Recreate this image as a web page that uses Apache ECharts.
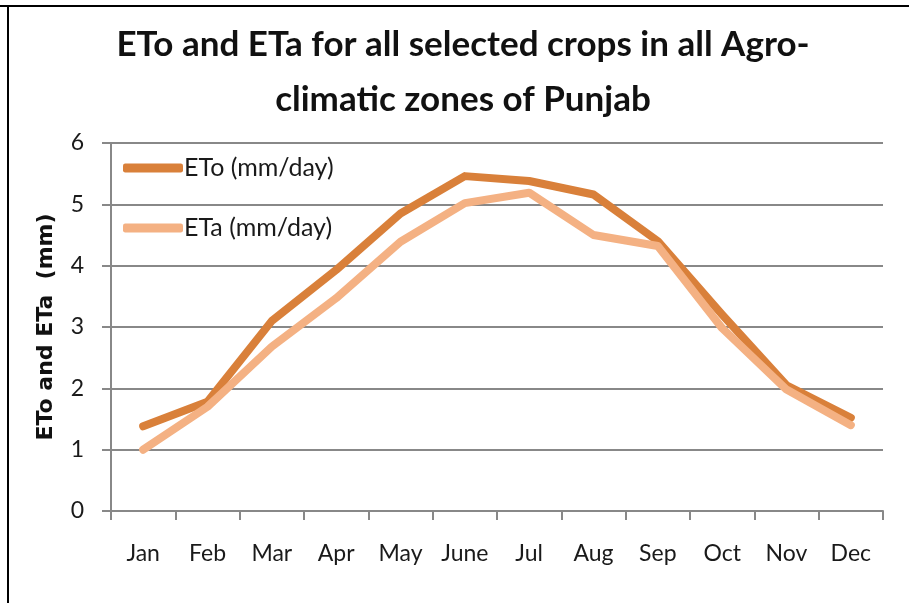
<!DOCTYPE html>
<html>
<head>
  <meta charset="UTF-8">
  <title>ETo and ETa</title>
  <script src="https://cdn.jsdelivr.net/npm/echarts@6/dist/echarts.min.js"></script>
  <style>
    * {
      box-sizing: border-box;
    }

    body {
      margin: 0;
      background: #fff;
    }

    #chart {
      width: 909px;
      height: 603px;
    }
  </style>
</head>
<body>
  <div id="chart"></div>
  <script>
    const months = ['Jan', 'Feb', 'Mar', 'Apr', 'May', 'June', 'Jul', 'Aug', 'Sep', 'Oct', 'Nov', 'Dec']
    const eto = [1.38, 1.78, 3.1, 3.93, 4.85, 5.46, 5.38, 5.16, 4.4, 3.2, 2.05, 1.52]
    const eta = [1.0, 1.7, 2.68, 3.47, 4.39, 5.02, 5.19, 4.5, 4.32, 2.98, 1.98, 1.4]
    const yTicks = [0, 1, 2, 3, 4, 5, 6]

    const myChart = echarts.init(document.querySelector('#chart'))
    const option = {
      animation: false,
      backgroundColor: '#fff',
      title: {
        text: 'ETo and ETa for all selected crops in all Agro-\nclimatic zones of Punjab',
        left: 463,
        top: 17,
        padding: 0,
        textAlign: 'center',
        textStyle: {
          fontFamily: 'Lato',
          fontWeight: 'bold',
          fontSize: 35,
          lineHeight: 55,
          color: '#111'
        }
      },
      graphic: [
        { type: 'rect', shape: { x: 0, y: 5, width: 909, height: 2 }, style: { fill: '#000' } },
        { type: 'rect', shape: { x: 7, y: 5, width: 2, height: 598 }, style: { fill: '#000' } }
      ],
      legend: {
        orient: 'vertical',
        left: 123,
        top: 154,
        padding: 0,
        itemWidth: 60,
        itemHeight: 9,
        itemGap: 32,
        icon: 'roundRect',
        textStyle: {
          fontFamily: 'Lato',
          fontSize: 25,
          lineHeight: 28,
          color: '#1a1a1a',
          padding: [0, 0, 0, -4]
        },
        data: ['ETo (mm/day)', 'ETa (mm/day)']
      },
      grid: {
        left: 111,
        right: 26,
        top: 143,
        bottom: 92
      },
      xAxis: {
        type: 'category',
        data: months,
        boundaryGap: true,
        axisLine: { lineStyle: { color: '#888', width: 2 } },
        axisTick: { show: true, length: 9, lineStyle: { color: '#888', width: 2 } },
        axisLabel: {
          margin: 31,
          fontFamily: 'Lato',
          fontSize: 23,
          color: '#1a1a1a',
          interval: 0
        }
      },
      yAxis: {
        type: 'value',
        min: yTicks[0],
        max: yTicks[yTicks.length - 1],
        interval: 1,
        name: 'ETo and ETa  (mm)',
        nameLocation: 'middle',
        nameGap: 54,
        nameTextStyle: {
          fontFamily: 'DejaVu Sans',
          fontWeight: 'bold',
          fontSize: 22,
          color: '#111'
        },
        axisLine: { show: true, lineStyle: { color: '#888', width: 2 } },
        axisTick: { show: true, length: 9, lineStyle: { color: '#888', width: 2 } },
        splitLine: { lineStyle: { color: '#888', width: 2 } },
        axisLabel: {
          margin: 27,
          fontFamily: 'Lato',
          fontSize: 23,
          color: '#1a1a1a'
        }
      },
      series: [
        {
          name: 'ETo (mm/day)',
          type: 'line',
          data: eto,
          showSymbol: false,
          color: '#D9803A',
          lineStyle: { width: 8, cap: 'round', join: 'round' }
        },
        {
          name: 'ETa (mm/day)',
          type: 'line',
          data: eta,
          showSymbol: false,
          color: '#F4B183',
          lineStyle: { width: 8, cap: 'round', join: 'round' }
        }
      ]
    }
    myChart.setOption(option)
  </script>
</body>
</html>
